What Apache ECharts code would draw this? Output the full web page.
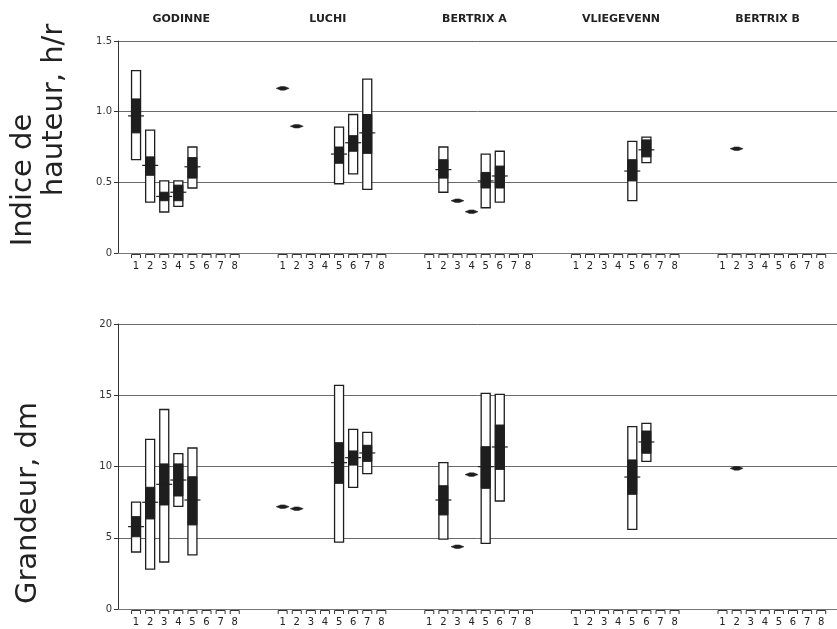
<!DOCTYPE html>
<html>
<head>
<meta charset="utf-8">
<script src="https://cdn.jsdelivr.net/npm/echarts@6/dist/echarts.min.js"></script>
<style>html,body{margin:0;padding:0;background:#fff}#c{width:837px;height:629px}</style>
</head>
<body>
<div id="c"></div>
<script>
// ---- data ----
const sites = ['GODINNE', 'LUCHI', 'BERTRIX A', 'VLIEGEVENN', 'BERTRIX B'];
const classes = ['1', '2', '3', '4', '5', '6', '7', '8'];
const hrTicks = [0, 0.5, 1.0, 1.5];
const dmTicks = [0, 5, 10, 15, 20];
// [site, class, min, max, innerLow, innerHigh, mean]
const hrBoxes = [
  [0, 1, 0.66, 1.29, 0.85, 1.09, 0.97],
  [0, 2, 0.36, 0.87, 0.55, 0.68, 0.62],
  [0, 3, 0.29, 0.51, 0.37, 0.43, 0.40],
  [0, 4, 0.33, 0.51, 0.37, 0.48, 0.43],
  [0, 5, 0.46, 0.75, 0.53, 0.675, 0.61],
  [1, 5, 0.49, 0.89, 0.635, 0.75, 0.70],
  [1, 6, 0.56, 0.98, 0.72, 0.83, 0.78],
  [1, 7, 0.45, 1.23, 0.705, 0.98, 0.85],
  [2, 2, 0.43, 0.75, 0.53, 0.66, 0.59],
  [2, 5, 0.32, 0.70, 0.46, 0.57, 0.51],
  [2, 6, 0.36, 0.72, 0.46, 0.615, 0.545],
  [3, 5, 0.37, 0.79, 0.51, 0.66, 0.58],
  [3, 6, 0.64, 0.82, 0.68, 0.80, 0.73]
];
// [site, class, value]
const hrSingles = [[1, 1, 1.165], [1, 2, 0.897], [2, 3, 0.37], [2, 4, 0.292], [4, 2, 0.738]];
const dmBoxes = [
  [0, 1, 4.0, 7.5, 5.07, 6.48, 5.78],
  [0, 2, 2.8, 11.9, 6.32, 8.54, 7.49],
  [0, 3, 3.3, 14.0, 7.3, 10.18, 8.75],
  [0, 4, 7.2, 10.9, 7.93, 10.18, 9.05],
  [0, 5, 3.8, 11.3, 5.9, 9.28, 7.65],
  [1, 5, 4.7, 15.7, 8.82, 11.67, 10.27],
  [1, 6, 8.54, 12.6, 10.1, 11.09, 10.62],
  [1, 7, 9.5, 12.4, 10.36, 11.49, 10.95],
  [2, 2, 4.9, 10.27, 6.6, 8.65, 7.65],
  [2, 5, 4.6, 15.13, 8.47, 11.39, 9.99],
  [2, 6, 7.58, 15.06, 9.8, 12.91, 11.37],
  [3, 5, 5.59, 12.8, 8.05, 10.46, 9.26],
  [3, 6, 10.36, 13.03, 10.93, 12.49, 11.72]
];
const dmSingles = [[1, 1, 7.18], [1, 2, 7.04], [2, 3, 4.37], [2, 4, 9.43], [4, 2, 9.87]];

// ---- layout helpers ----
const GROUP_STEP = 10.4;
const X_MIN = -1.28, X_MAX = 49.72;
const INK = '#1e1e1e';
const FONT = '"DejaVu Sans", sans-serif';
const xPos = (s, c) => s * GROUP_STEP + (c - 1);

const boxData = arr => arr.map(r => [xPos(r[0], r[1]), r[2], r[3], r[4], r[5], r[6]]);
const singleData = arr => arr.map(r => [xPos(r[0], r[1]), r[2]]);
const catData = [];
sites.forEach((s, si) => classes.forEach((c, ci) => catData.push([xPos(si, ci + 1), 0, ci])));
const titleData = sites.map((s, si) => [xPos(si, 1) + 3.2, hrTicks[hrTicks.length - 1], si]);

function renderBox(params, api) {
  const x = api.value(0);
  const pMin = api.coord([x, api.value(1)]);
  const pMax = api.coord([x, api.value(2)]);
  const pLo = api.coord([x, api.value(3)]);
  const pHi = api.coord([x, api.value(4)]);
  const pMean = api.coord([x, api.value(5)]);
  const w = 9, cx = pMin[0];
  return {
    type: 'group', children: [
      { type: 'rect', shape: { x: cx - w / 2, y: pMax[1], width: w, height: pMin[1] - pMax[1] },
        style: { fill: '#fff', stroke: INK, lineWidth: 1.3 } },
      { type: 'rect', shape: { x: cx - w / 2, y: pHi[1], width: w, height: pLo[1] - pHi[1] },
        style: { fill: INK, stroke: INK, lineWidth: 1 } },
      { type: 'line', shape: { x1: cx - 8, y1: pMean[1], x2: cx + 8, y2: pMean[1] },
        style: { stroke: INK, lineWidth: 1.2 } }
    ]
  };
}
function renderSingle(params, api) {
  const p = api.coord([api.value(0), api.value(1)]);
  return { type: 'polygon', shape: { points: [[p[0] - 6.5, p[1]], [p[0] - 2, p[1] - 1.8], [p[0] + 2, p[1] - 1.8], [p[0] + 6.5, p[1]], [p[0] + 2, p[1] + 1.8], [p[0] - 2, p[1] + 1.8]] },
    style: { fill: INK, stroke: INK, lineWidth: 0.5 } };
}
function renderCat(params, api) {
  const p = api.coord([api.value(0), 0]);
  return {
    type: 'group', children: [
      { type: 'polyline', shape: { points: [[p[0] - 4.5, p[1] + 5], [p[0] - 4.5, p[1] + 1.5], [p[0] + 4.5, p[1] + 1.5], [p[0] + 4.5, p[1] + 5]] },
        style: { stroke: '#333', lineWidth: 1, fill: null } },
      { type: 'text', x: p[0], y: p[1] + 13.5,
        style: { text: classes[api.value(2)], font: '10px ' + FONT, fill: '#222', align: 'center', verticalAlign: 'middle', textAlign: 'center', textVerticalAlign: 'middle' } }
    ]
  };
}
function renderTitle(params, api) {
  const p = api.coord([api.value(0), api.value(1)]);
  return { type: 'text', x: p[0], y: p[1] - 22,
    style: { text: sites[api.value(2)], font: 'bold 11px ' + FONT, fill: '#222', align: 'center', verticalAlign: 'middle', textAlign: 'center', textVerticalAlign: 'middle' } };
}

function yAxis(idx, ticks, fmt) {
  return {
    type: 'value', gridIndex: idx, min: ticks[0], max: ticks[ticks.length - 1], interval: ticks[1] - ticks[0],
    axisLine: { show: true, onZero: false, lineStyle: { color: '#333', width: 1 } },
    axisTick: { show: true, length: 4, lineStyle: { color: '#333' } },
    axisLabel: { formatter: fmt, fontSize: 10, color: '#333', fontFamily: FONT, margin: 6 },
    splitLine: { show: true, lineStyle: { color: '#6a6a6a', width: 1 } }
  };
}
function xAxis(idx) {
  return {
    type: 'value', gridIndex: idx, min: X_MIN, max: X_MAX,
    axisLine: { show: true, onZero: false, lineStyle: { color: '#777', width: 1 } },
    axisTick: { show: false }, axisLabel: { show: false }, splitLine: { show: false }
  };
}

const chart = echarts.init(document.getElementById('c'), null, { renderer: 'canvas' });
chart.setOption({
  backgroundColor: '#fff',
  animation: false,
  grid: [
    { left: 118, top: 41, right: 0, height: 212 },
    { left: 118, top: 324, right: 0, height: 285 }
  ],
  xAxis: [xAxis(0), xAxis(1)],
  yAxis: [
    yAxis(0, hrTicks, v => v === 0 ? '0' : v.toFixed(1)),
    yAxis(1, dmTicks, v => String(v))
  ],
  graphic: [
    { type: 'text', x: 23, y: 180, rotation: Math.PI / 2,
      style: { text: 'Indice de', font: '29px ' + FONT, fill: '#222', align: 'center', verticalAlign: 'middle', textAlign: 'center', textVerticalAlign: 'middle' } },
    { type: 'text', x: 54, y: 110, rotation: Math.PI / 2,
      style: { text: 'hauteur, h/r', font: '29px ' + FONT, fill: '#222', align: 'center', verticalAlign: 'middle', textAlign: 'center', textVerticalAlign: 'middle' } },
    { type: 'text', x: 28, y: 503, rotation: Math.PI / 2,
      style: { text: 'Grandeur, dm', font: '29px ' + FONT, fill: '#222', align: 'center', verticalAlign: 'middle', textAlign: 'center', textVerticalAlign: 'middle' } }
  ],
  series: [
    { type: 'custom', xAxisIndex: 0, yAxisIndex: 0, renderItem: renderTitle, data: titleData, encode: { x: 0, y: 1 }, silent: true, clip: false },
    { type: 'custom', xAxisIndex: 0, yAxisIndex: 0, renderItem: renderCat, data: catData, encode: { x: 0, y: 1 }, silent: true, clip: false },
    { type: 'custom', xAxisIndex: 1, yAxisIndex: 1, renderItem: renderCat, data: catData, encode: { x: 0, y: 1 }, silent: true, clip: false },
    { type: 'custom', xAxisIndex: 0, yAxisIndex: 0, renderItem: renderBox, data: boxData(hrBoxes), encode: { x: 0, y: [1, 2, 3, 4, 5] }, silent: true, clip: false },
    { type: 'custom', xAxisIndex: 1, yAxisIndex: 1, renderItem: renderBox, data: boxData(dmBoxes), encode: { x: 0, y: [1, 2, 3, 4, 5] }, silent: true, clip: false },
    { type: 'custom', xAxisIndex: 0, yAxisIndex: 0, renderItem: renderSingle, data: singleData(hrSingles), encode: { x: 0, y: 1 }, silent: true, clip: false },
    { type: 'custom', xAxisIndex: 1, yAxisIndex: 1, renderItem: renderSingle, data: singleData(dmSingles), encode: { x: 0, y: 1 }, silent: true, clip: false }
  ]
});
</script>
</body>
</html>
